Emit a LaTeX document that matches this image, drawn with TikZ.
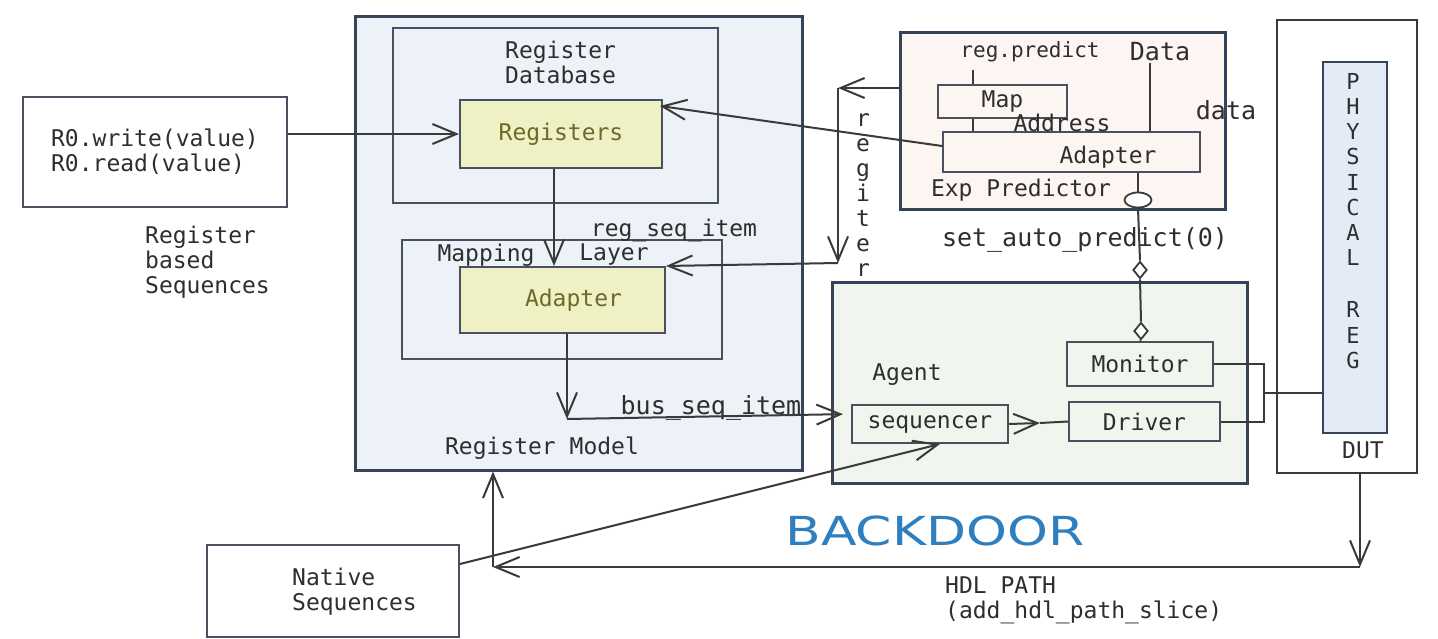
\documentclass[tikz,border=0pt]{standalone}
\usepackage{fontspec}
\usepackage{graphicx}
\usetikzlibrary{arrows.meta,shapes.geometric}
\newfontfamily\handfont{DejaVu Sans Mono}
\newfontfamily\bdfont{DejaVu Sans}
\definecolor{lc}{HTML}{3A3A3A}
\definecolor{bc}{HTML}{4A5060}
\definecolor{tc}{HTML}{36445A}
\definecolor{tx}{HTML}{2E2E2E}
\definecolor{olive}{HTML}{6A6A2A}
\definecolor{rmfill}{HTML}{EDF1F8}
\definecolor{expfill}{HTML}{FCF5F1}
\definecolor{agfill}{HTML}{F0F6EE}
\definecolor{yfill}{HTML}{EFF1C4}
\definecolor{physfill}{HTML}{E3EBF7}
\definecolor{bdblue}{HTML}{2F7FBF}
\begin{document}
\begin{tikzpicture}[x=1pt,y=-1pt,
  sz/.style 2 args={minimum width=#1pt, minimum height=#2pt},
  box/.style={draw=bc, line width=2pt, rectangle, inner sep=0pt},
  heavy/.style={draw=tc, line width=3pt, rectangle, inner sep=0pt},
  ybox/.style={box, fill=yfill, text=olive, font=\handfont\fontsize{23}{25}\selectfont},
  txt/.style={font=\handfont\fontsize{23}{25}\selectfont, text=tx, inner sep=0pt, align=center},
  ltxt/.style={txt, align=left},
  conn/.style={draw=lc, line width=2pt},
  arr/.style={conn, -{Straight Barb[length=24pt,width=20pt]}},
  dia/.style={diamond, draw=lc, line width=1.8pt, fill=white, inner sep=0pt, minimum width=14pt, minimum height=17pt},
  circ/.style={ellipse, draw=lc, line width=1.8pt, fill=white, inner sep=0pt, minimum width=27pt, minimum height=15pt}
]
\fill[white] (0,0) rectangle (1438,639);
\useasboundingbox (0,0) rectangle (1438,639);

% left sequence box
\node[box, sz={264}{110}, txt, align=left] (r0) at (155,152) {R0.write(value)\\R0.read(value)};
\node[ltxt, anchor=west] (rbs) at (145,262) {Register\\based\\Sequences};

% register model
\node[heavy, fill=rmfill, sz={447}{453}] (regmodel) at (578.5,243.5) {};
\node[box, sz={325}{175}] (regdb) at (555.5,115.5) {};
\node[ltxt, anchor=west] (regdbt) at (505,62.5) {Register\\Database};
\node[ybox, sz={202}{68}] (registers) at (561,134) {Registers};
\node[box, sz={320}{119}] (maplayer) at (562,299.5) {};
\node[txt] (mapt) at (486,255) {Mapping};
\node[txt] (layt) at (614,255) {Layer};
\node[ybox, sz={205}{66}] (adapterR) at (562.5,300) {\hspace*{22pt}Adapter};
\node[txt] (rsi) at (674,230) {reg\_seq\_item};
\node[txt, font=\handfont\fontsize{25}{27}\selectfont] (bsi) at (711,408) {bus\_seq\_item};
\node[txt] (rmt) at (542,448) {Register Model};

% expected predictor
\node[heavy, fill=expfill, sz={325}{177}] (exp) at (1062.5,121.5) {};
\node[box, sz={129}{33}, txt] (map) at (1002.5,101.5) {Map};
\node[box, sz={257}{40}] (adapterE) at (1071.5,152) {};
\node[txt] (adet) at (1108,157) {Adapter};
\node[txt, font=\handfont\fontsize{21}{23}\selectfont] (rpt) at (1030,52) {reg.predict};
\node[txt, font=\handfont\fontsize{25}{27}\selectfont] (datat) at (1160,52) {Data};
\node[txt] (addrt) at (1062,123) {Address};
\node[txt] (ept) at (1021,190) {Exp Predictor};
\node[txt, font=\handfont\fontsize{25}{27}\selectfont] (dlt) at (1226,110) {data};
\node[txt, font=\handfont\fontsize{25}{27}\selectfont] (sap) at (1085,240) {set\_auto\_predict(0)};

% vertical "register"
\node[txt] (regv) at (863,195) {r\\e\\g\\i\\t\\e\\r};

% agent
\node[heavy, fill=agfill, sz={415}{201}] (agent) at (1039.5,382.5) {};
\node[txt] (agt) at (907,375) {Agent};
\node[box, sz={146}{44}, txt] (monitor) at (1140,364) {Monitor};
\node[box, sz={151}{39}, txt] (driver) at (1144.5,421.5) {Driver};
\node[box, sz={156}{38}, txt] (seq) at (930,424) {sequencer};

% DUT
\node[box, draw=lc, sz={140}{453}] (dut) at (1347,246.5) {};
\node[box, draw=tc, line width=2.5pt, fill=physfill, sz={64}{371}] (phys) at (1355,247.5) {};
\node[txt, font=\handfont\fontsize{22}{25.2}\selectfont] (physt) at (1353,221) {P\\H\\Y\\S\\I\\C\\A\\L\\[27pt]R\\E\\G};
\node[txt] (dutt) at (1363,450) {DUT};

% circle and diamonds
\node[circ] (circ) at (1138,200) {};
\node[dia] (d1) at (1140,270) {};
\node[dia] (d2) at (1141,331) {};

% native sequences
\node[box, sz={252}{92}] (native) at (333,591) {};
\node[ltxt, anchor=west] (natt) at (292,592) {Native\\Sequences};

% backdoor
\node[inner sep=0pt, text=bdblue, font=\bdfont\fontsize{40}{44}\selectfont] (bd) at (935,531) {\scalebox{1.3}[1]{BACKDOOR}};
\node[ltxt, anchor=west] (hdl) at (945,600) {HDL PATH\\(add\_hdl\_path\_slice)};

% coordinates
\coordinate (rtop) at (838,88);
\coordinate (rbot) at (838,263);
\coordinate (bt) at (567,419);
\coordinate (sd) at (1040,423);
\coordinate (mj1) at (1264,364);
\coordinate (mj2) at (1264,421.5);
\coordinate (mj) at (1264,393);
\coordinate (hdlL) at (493,567);
\coordinate (hdlR) at (1360,567);
\coordinate (rp) at (973,70);
\coordinate (dl) at (1150,63);

% connectors
\draw[arr] ([yshift=18pt]r0.east) -- (registers.west);
\draw[arr] ([xshift=-7pt]registers.south) -- ([xshift=-8.5pt]adapterR.north);
\draw[arr] ([yshift=6pt]adapterE.west) -- ([xshift=-3pt,yshift=-7pt]registers.north east);
\draw[arr] ([yshift=33.5pt]exp.west) -- (rtop);
\draw[arr] (rtop) -- (rbot);
\draw[arr] (rbot) -- (adapterR.north east);
\draw[arr] ([xshift=4.5pt]adapterR.south) -- (bt);
\draw[arr, shorten >=8pt] (bt) -- ([yshift=10pt]seq.west);
\draw[arr] (seq.east) -- (sd);
\draw[conn] (sd) -- (driver.west);
\draw[arr] ([yshift=-20pt]native.north east) -- ([xshift=10pt]seq.south);
\draw[arr] (hdlL) -- (regmodel.south -| hdlL);
\draw[arr] (dut.south -| hdlR) -- (hdlR);
\draw[arr] (hdlR) -- (hdlL);
\draw[conn] (circ |- adapterE.south) -- (circ.north);
\draw[conn] (circ.south) -- (d1.north);
\draw[conn] (d1.south) -- (d2.north);
\draw[conn] (d2.south) -- (monitor.north);
\draw[conn] (monitor.east) -- (mj1) -- (mj2) -- (driver.east);
\draw[conn] (mj) -- (phys.west |- mj);
\draw[conn] (rp) -- (rp |- map.north);
\draw[conn] (rp |- map.south) -- (rp |- adapterE.north);
\draw[conn] (dl) -- (dl |- adapterE.north);
\end{tikzpicture}
\end{document}
